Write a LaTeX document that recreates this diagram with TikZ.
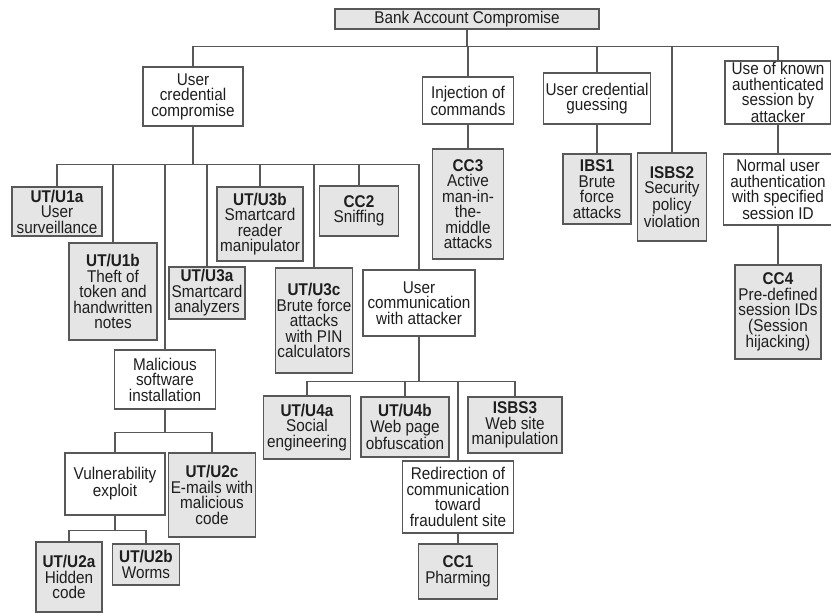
\documentclass[tikz,border=0pt]{standalone}
\usepackage{fontspec}
\setmainfont{Liberation Sans}[FakeStretch=0.9]
\usetikzlibrary{positioning}

\definecolor{boxgray}{RGB}{229,229,229}
\definecolor{linegray}{RGB}{88,88,88}
\definecolor{textgray}{RGB}{30,30,30}

\begin{document}
\begin{tikzpicture}[x=1pt, y=-1pt, line width=1.2pt]

        \def\busone{17}             % drop from the root to the first bus
        \def\bustwo{38}             % drop below user credential compromise
        \tikzstyle{goal}=[draw=linegray, fill=white, text=textgray, align=center, inner sep=1pt,
                          font=\fontsize{17pt}{15.5pt}\selectfont]
        \tikzstyle{leaf}=[goal, fill=boxgray]
        \tikzstyle{link}=[draw=linegray]
        \tikzset{sz/.style 2 args={minimum width=#1pt, minimum height=#2pt}}

        \useasboundingbox (0,0) rectangle (831,613);

        % Draw the root
        \node[leaf, sz={264}{20}] (bac) at (467,19) {Bank Account Compromise};

        % Draw the first level
        \node[goal, sz={100}{59}] (ucc) at (193,96.5) {User\\credential\\compromise};
        \node[goal, sz={91}{47}] (inj) at (468,100.5) {Injection of\\commands};
        \node[goal, sz={107}{51}] (ucg) at (597,98.5) {User credential\\guessing};
        \node[leaf, sz={69}{88}] (isbs2) at (672,197) {\textbf{ISBS2}\\Security\\policy\\violation};
        \node[goal, sz={106}{63}] (known) at (778,92.5) {Use of known\\authenticated\\session by\\attacker};

        % Draw the right branches
        \node[leaf, sz={71}{110}] (cc3) at (468,204) {\textbf{CC3}\\Active\\man-in-\\the-\\middle\\attacks};
        \node[leaf, sz={68}{70}] (ibs1) at (597,189) {\textbf{IBS1}\\Brute\\force\\attacks};
        \node[goal, sz={109}{71}] (norm) at (778,189.5) {Normal user\\authentication\\with specified\\session ID};
        \node[leaf, sz={86}{94}] (cc4) at (778,312) {\textbf{CC4}\\Pre-defined\\session IDs\\(Session\\hijacking)};

        % Draw the children of user credential compromise
        \node[leaf, sz={90}{49}] (u1a) at (57,211.5) {\textbf{UT/U1a}\\User\\surveillance};
        \node[leaf, sz={88}{97}] (u1b) at (113,291.5) {\textbf{UT/U1b}\\Theft of\\token and\\handwritten\\notes};
        \node[goal, sz={101}{59}] (mal) at (165,379.5) {Malicious\\software\\installation};
        \node[leaf, sz={76}{52}] (u3a) at (207,293) {\textbf{UT/U3a}\\Smartcard\\analyzers};
        \node[leaf, sz={86}{74}] (u3b) at (260,224) {\textbf{UT/U3b}\\Smartcard\\reader\\manipulator};
        \node[leaf, sz={77}{105}] (u3c) at (314,320.5) {\textbf{UT/U3c}\\Brute force\\attacks\\with PIN\\calculators};
        \node[leaf, sz={79}{50}] (cc2) at (359,211) {\textbf{CC2}\\Sniffing};
        \node[goal, sz={112}{66}] (ucwa) at (419,303) {User\\communication\\with attacker};

        % Draw the children of user communication with attacker
        \node[leaf, sz={87}{63}] (u4a) at (307,427.5) {\textbf{UT/U4a}\\Social\\engineering};
        \node[leaf, sz={88}{60}] (u4b) at (405,427) {\textbf{UT/U4b}\\Web page\\obfuscation};
        \node[goal, sz={111}{72}] (redir) at (458,497) {Redirection of\\communication\\toward\\fraudulent site};
        \node[leaf, sz={94}{56}] (isbs3) at (515,425) {\textbf{ISBS3}\\Web site\\manipulation};
        \node[leaf, sz={79}{55}] (cc1) at (458,571.5) {\textbf{CC1}\\Pharming};

        % Draw the malicious software branch
        \node[goal, sz={100}{62}] (vuln) at (115,484) {Vulnerability\\exploit};
        \node[leaf, sz={87}{84}] (u2c) at (212,495) {\textbf{UT/U2c}\\E-mails with\\malicious\\code};
        \node[leaf, sz={66}{70}] (u2a) at (69,577) {\textbf{UT/U2a}\\Hidden\\code};
        \node[leaf, sz={67}{41}] (u2b) at (146,564.5) {\textbf{UT/U2b}\\Worms};

        % Connect the tree
        \foreach \child in {ucc,inj,ucg,isbs2,known}
                \draw[link] (bac.south) -- ++(0,\busone) -| (\child.north);
        \foreach \child in {u1a,u1b,mal,u3a,u3b,u3c,cc2,ucwa}
                \draw[link] (ucc.south) -- ++(0,\bustwo) -| (\child.north);
        \foreach \child in {u4a,u4b,redir,isbs3}
                \draw[link] (ucwa.south) -- ++(0,45) -| (\child.north);
        \foreach \child in {vuln,u2c}
                \draw[link] (mal.south) -- ++(0,23) -| (\child.north);
        \foreach \child in {u2a,u2b}
                \draw[link] (vuln.south) -- ++(0,15) -| (\child.north);
        \draw[link] (inj) -- (cc3);
        \draw[link] (ucg) -- (ibs1);
        \draw[link] (known) -- (norm);
        \draw[link] (norm) -- (cc4);
        \draw[link] (redir) -- (cc1);

\end{tikzpicture}
\end{document}
